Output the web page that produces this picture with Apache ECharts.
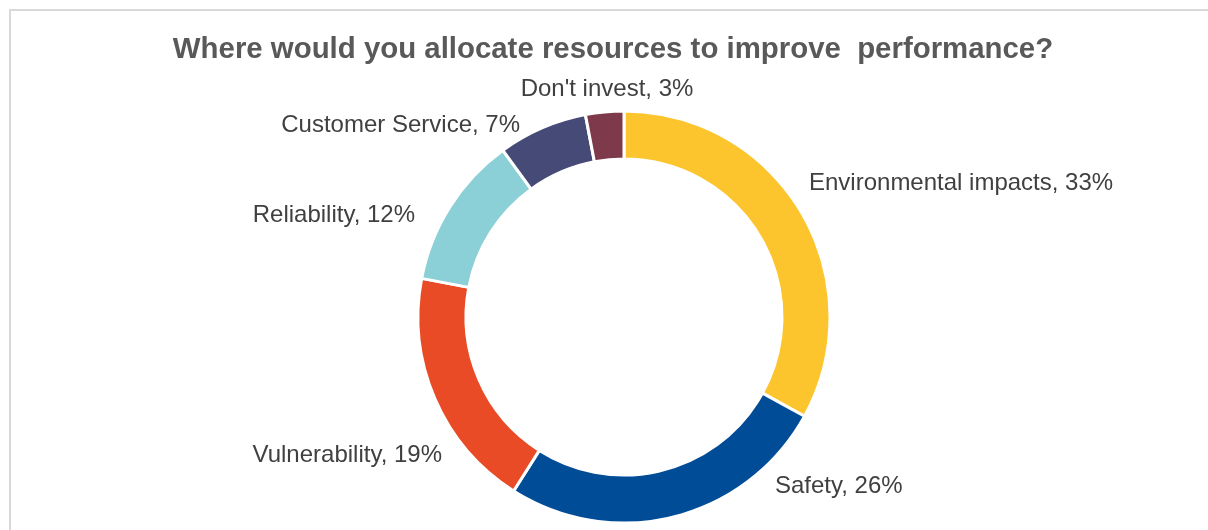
<!DOCTYPE html>
<html>
<head>
<meta charset="utf-8">
<script src="https://cdn.jsdelivr.net/npm/echarts@6/dist/echarts.min.js"></script>
<style>
  html, body { margin: 0; padding: 0; background: #ffffff; }
  #frame { position: absolute; left: 9px; top: 9px; width: 1199px; height: 521px;
           border-left: 2px solid #d9d9d9; border-top: 2px solid #d9d9d9; box-sizing: border-box; }
  #chart { position: absolute; left: 0; top: 0; width: 1208px; height: 530px; }
</style>
</head>
<body>
<div id="frame"></div>
<div id="chart"></div>
<script>
const titleText = 'Where would you allocate resources to improve  performance?';
const categories = ['Environmental impacts', 'Safety', 'Vulnerability', 'Reliability', 'Customer Service', "Don't invest"];
const shares = [33, 26, 19, 12, 7, 3];
const colors = ['#FCC42D', '#004C97', '#E84B26', '#8BCFD7', '#464A77', '#7E3A4A'];

// Where each slice label sits (anchor point and which side of the text it marks)
const labelPlacement = [
  { x: 809, y: 183, align: 'left' },
  { x: 775, y: 486, align: 'left' },
  { x: 442, y: 455, align: 'right' },
  { x: 415, y: 215, align: 'right' },
  { x: 520, y: 125, align: 'right' },
  { x: 607, y: 89, align: 'center' }
];

const chart = echarts.init(document.getElementById('chart'), null, { renderer: 'canvas' });

chart.setOption({
  animation: false,
  title: {
    text: titleText,
    left: 608,
    top: 30,
    textAlign: 'center',
    textStyle: { fontFamily: 'Liberation Sans, Arial, sans-serif', fontSize: 29.4, fontWeight: 'bold', color: '#595959' }
  },
  series: [{
    type: 'pie',
    center: [624, 317],
    radius: [158, 206],
    startAngle: 90,
    clockwise: true,
    data: categories.map((name, i) => ({ name, value: shares[i], itemStyle: { color: colors[i] } })),
    itemStyle: { borderColor: '#ffffff', borderWidth: 3 },
    label: {
      show: true,
      position: 'outside',
      formatter: p => p.name + ', ' + p.value + '%',
      fontFamily: 'Liberation Sans, Arial, sans-serif',
      fontSize: 24,
      color: '#404040'
    },
    labelLine: { show: false },
    labelLayout: p => {
      const s = labelPlacement[p.dataIndex];
      return { x: s.x, y: s.y, align: s.align, verticalAlign: 'middle', hideOverlap: false };
    },
    emphasis: { disabled: true }
  }]
});
</script>
</body>
</html>
